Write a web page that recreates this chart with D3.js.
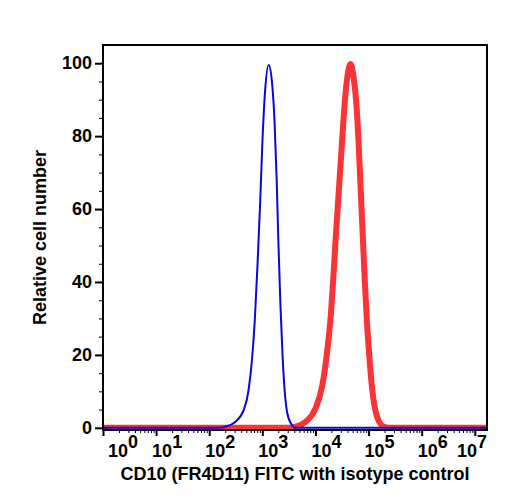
<!DOCTYPE html>
<html>
<head>
<meta charset="utf-8">
<script src="https://cdn.jsdelivr.net/npm/d3@7"></script>
<style>
  body { margin: 0; background: #fff; }
  text { font-family: "Liberation Sans", Arial, Helvetica, sans-serif; font-weight: bold; fill: #000; }
</style>
</head>
<body>
<div id="chart"></div>
<script>
/* CD10 FITC histogram with isotype control */

// isotype control (blue): fluorescence intensity vs relative cell number
const isoIntensity = [1, 158, 200, 309, 447, 550, 646, 724, 813, 912, 1000, 1122, 1318, 1514, 1698, 1862, 1995, 2188, 2399, 2630, 2951, 3631, 4169, 17000000];
const isoCount     = [0, 0, 0.3, 1.6, 4.9, 10.3, 19.5, 30, 45, 62, 78, 92, 99.5, 95, 84, 68, 52, 34, 20, 10.3, 4.0, 0.7, 0, 0];

// CD10 stained (red)
const cd10Intensity = [1, 3388, 4169, 6457, 10000, 13490, 16600, 19500, 21880, 24550, 27540, 30900, 34670, 38900, 45710, 52480, 58880, 64570, 70790, 77620, 85110, 93330, 102300, 114800, 131800, 158500, 195000, 240000, 17000000];
const cd10Count     = [0, 0, 0.3, 1.6, 5.3, 11.7, 20.9, 31, 42, 54, 65, 76, 87, 95, 99.8, 96, 89, 79, 66, 53, 40, 29, 20.5, 11.7, 5.3, 1.6, 0.3, 0, 0];

const yTicks = [0, 20, 40, 60, 80, 100];
const xDecades = [0, 1, 2, 3, 4, 5, 6, 7];

const width = 508,
      height = 500,
      margin = ({top: 45, right: 21, bottom: 70, left: 103});

let svg = d3.select("#chart")
    .append("svg")
    .attr("width", width)
    .attr("height", height)
    .attr("viewBox", [0, 0, width, height]);

let x = d3.scaleLog()
    .domain([1, Math.pow(10, 7.23)])
    .range([margin.left, width - margin.right]);

let y = d3.scaleLinear()
    .domain([-0.6, 105])
    .range([height - margin.bottom, margin.top]);

svg.append("clipPath")
    .attr("id", "plot")
  .append("rect")
    .attr("x", margin.left)
    .attr("y", margin.top)
    .attr("width", width - margin.left - margin.right)
    .attr("height", height - margin.top - margin.bottom);

const line = d3.line()
    .x(d => x(d[0]))
    .y(d => y(d[1]))
    .curve(d3.curveMonotoneX);

let lines = svg.append("g").attr("clip-path", "url(#plot)");

lines.append("path")
    .datum(d3.zip(cd10Intensity, cd10Count))
    .attr("fill", "none")
    .attr("stroke", "#fa3434")
    .attr("stroke-width", 6)
    .attr("stroke-linejoin", "round")
    .attr("d", line);

lines.append("path")
    .datum(d3.zip(isoIntensity, isoCount))
    .attr("fill", "none")
    .attr("stroke", "#0808d8")
    .attr("stroke-width", 2)
    .attr("stroke-linejoin", "round")
    .attr("d", line);

// y axis: majors every 20, minors every 5
const yMinor = d3.range(0, 101, 5).filter(v => v % 20 !== 0);

svg.append("g")
    .attr("transform", `translate(${margin.left},0)`)
    .call(d3.axisLeft(y).tickValues(yMinor).tickSize(4).tickFormat(""))
    .call(g => g.select(".domain").remove())
    .call(g => g.selectAll("line").attr("stroke-width", 1));

svg.append("g")
    .attr("transform", `translate(${margin.left},0)`)
    .call(d3.axisLeft(y).tickValues(yTicks).tickSize(8).tickPadding(3))
    .call(g => g.select(".domain").remove())
    .call(g => g.selectAll("line").attr("stroke-width", 2))
    .call(g => g.selectAll("text").style("font-size", "18px"));

// x axis: decades plus 2..9 minors
const xMajor = xDecades.map(k => Math.pow(10, k));
const xMinor = [];
for (let k = 0; k < 7; k++) {
    for (let m = 2; m <= 9; m++) xMinor.push(m * Math.pow(10, k));
}

const xBase = height - margin.bottom;

svg.append("g")
    .attr("transform", `translate(0,${xBase})`)
    .call(d3.axisBottom(x).tickValues(xMinor).tickSize(3).tickFormat(""))
    .call(g => g.select(".domain").remove())
    .call(g => g.selectAll("line").attr("stroke-width", 1));

svg.append("g")
    .attr("transform", `translate(0,${xBase})`)
    .call(d3.axisBottom(x).tickValues(xMajor).tickSize(6).tickFormat(""))
    .call(g => g.select(".domain").remove())
    .call(g => g.selectAll("line").attr("stroke-width", 2));

// tick labels as 10 with superscript exponent, kept inside the frame
let xLabels = svg.append("g");
xDecades.forEach(k => {
    let t = xLabels.append("text")
        .style("font-size", "18px")
        .attr("y", xBase + 27);
    t.append("tspan").text("10");
    t.append("tspan").attr("dy", -9).text(k);
    const w = t.node().getComputedTextLength();
    let left = x(Math.pow(10, k)) - 4;
    left = Math.max(margin.left + 5, Math.min(width - margin.right - w, left));
    t.attr("x", left);
});

// frame
svg.append("rect")
    .attr("x", margin.left)
    .attr("y", margin.top)
    .attr("width", width - margin.left - margin.right)
    .attr("height", height - margin.top - margin.bottom)
    .attr("fill", "none")
    .attr("stroke", "#000")
    .attr("stroke-width", 2);

// axis titles
svg.append("text")
    .attr("x", (margin.left + width - margin.right) / 2)
    .attr("y", 480)
    .attr("text-anchor", "middle")
    .style("font-size", "18px")
    .text("CD10 (FR4D11) FITC with isotype control");

svg.append("text")
    .attr("transform", `translate(46,${(margin.top + height - margin.bottom) / 2}) rotate(-90)`)
    .attr("text-anchor", "middle")
    .style("font-size", "18px")
    .text("Relative cell number");
</script>
</body>
</html>
